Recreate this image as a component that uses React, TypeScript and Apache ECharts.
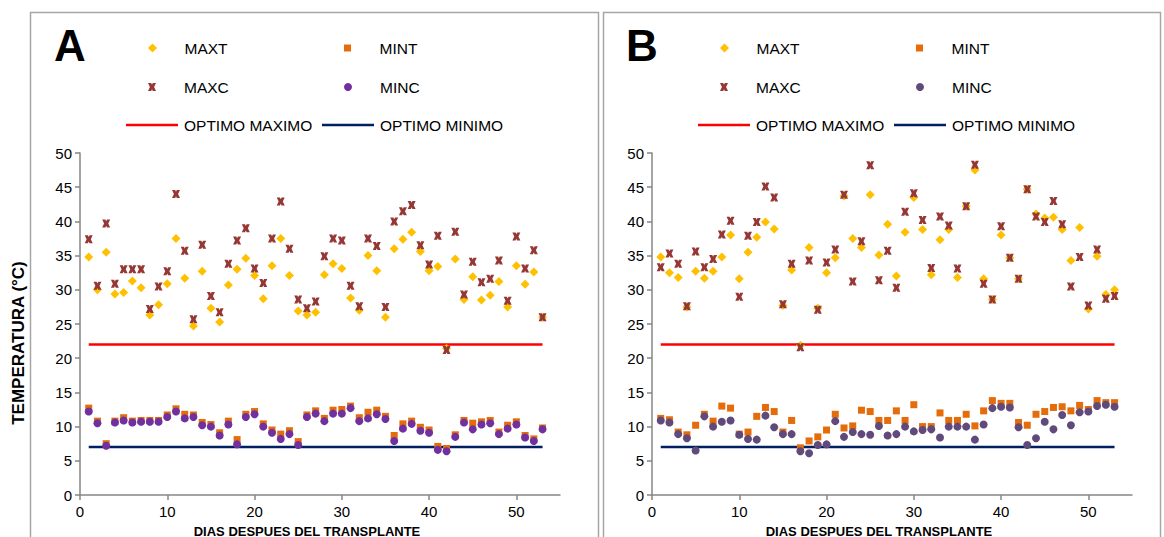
import React, { useEffect, useRef } from "react";
import * as echarts from "echarts";

// Days after transplant (x values)
const days = [
  1, 2, 3, 4, 5, 6, 7, 8, 9, 10, 11, 12, 13, 14, 15, 16, 17, 18, 19, 20, 21, 22, 23, 24, 25, 26, 27,
  28, 29, 30, 31, 32, 33, 34, 35, 36, 37, 38, 39, 40, 41, 42, 43, 44, 45, 46, 47, 48, 49, 50, 51, 52, 53,
];

// Panel A temperatures (°C)
const maxtA = [
  34.8, 30.0, 35.5, 29.4, 29.6, 31.3, 30.3, 26.3, 27.8, 30.9, 37.5, 31.7, 24.7, 32.7, 27.3, 25.3, 30.7,
  33.0, 34.6, 32.1, 28.7, 33.5, 37.5, 32.1, 26.9, 26.3, 26.7, 32.2, 33.8, 33.1, 28.8, 27.0, 35.0, 32.8,
  26.0, 36.0, 37.4, 38.4, 35.6, 32.8, 33.4, 21.4, 34.5, 28.6, 31.9, 28.5, 29.2, 31.2, 27.5, 33.5, 30.8,
  32.6, 26.0,
];
const maxcA = [
  37.4, 30.6, 39.7, 30.9, 33.0, 33.0, 33.0, 27.2, 30.5, 32.7, 44.0, 35.7, 25.7, 36.6, 29.1, 26.7, 33.8,
  37.2, 39.0, 33.1, 31.0, 37.5, 42.9, 36.0, 28.6, 27.3, 28.3, 34.9, 37.5, 37.2, 30.6, 27.6, 37.5, 36.4,
  27.5, 40.0, 41.5, 42.4, 36.5, 33.7, 37.9, 21.2, 38.5, 29.3, 34.1, 31.1, 31.6, 34.3, 28.4, 37.8, 33.1,
  35.8, 26.0,
];
const mintA = [
  12.7, 10.8, 7.5, 10.8, 11.3, 10.8, 10.9, 10.9, 10.9, 11.7, 12.6, 11.8, 11.7, 10.6, 10.3, 9.1, 10.8,
  8.1, 11.8, 12.2, 10.4, 9.5, 8.9, 9.4, 7.8, 11.7, 12.3, 11.2, 12.4, 12.5, 13.0, 11.3, 12.1, 12.4, 11.5,
  8.7, 10.4, 10.8, 9.9, 9.5, 7.1, 6.8, 8.8, 10.9, 10.5, 10.7, 10.9, 9.2, 10.2, 10.7, 8.7, 8.2, 9.8,
];
const mincA = [
  12.2, 10.5, 7.2, 10.6, 10.9, 10.6, 10.7, 10.7, 10.7, 11.4, 12.2, 11.2, 11.4, 10.2, 10.0, 8.7, 10.3,
  7.4, 11.4, 11.8, 10.0, 9.1, 8.2, 8.9, 7.3, 11.4, 11.9, 10.8, 11.9, 11.9, 12.7, 10.8, 11.2, 11.8, 11.1,
  7.9, 9.7, 10.4, 9.4, 9.1, 6.6, 6.4, 8.5, 10.6, 9.6, 10.3, 10.5, 8.9, 9.7, 10.3, 8.4, 7.9, 9.6,
];

// Panel B temperatures (°C)
const maxtB = [
  34.8, 32.5, 31.8, 27.5, 32.7, 31.7, 32.7, 34.8, 38.0, 31.6, 35.5, 37.7, 39.9, 38.9, 27.7, 32.9, 21.9,
  36.2, 27.3, 32.5, 34.7, 43.7, 37.5, 36.2, 43.9, 35.1, 39.6, 32.0, 38.4, 43.5, 38.8, 32.2, 37.3, 38.8,
  31.8, 42.2, 47.5, 31.6, 28.6, 38.0, 34.7, 31.6, 44.7, 41.1, 40.5, 40.6, 38.8, 34.3, 39.1, 27.2, 34.9,
  29.3, 30.0,
];
const maxcB = [
  33.3, 35.3, 33.8, 27.6, 35.6, 33.3, 34.5, 38.1, 40.1, 29.0, 37.9, 39.9, 45.1, 43.5, 27.9, 33.8, 21.6,
  34.3, 27.1, 34.0, 35.9, 43.9, 31.2, 37.1, 48.2, 31.4, 35.7, 30.3, 41.4, 44.1, 40.2, 33.2, 40.7, 39.4,
  33.1, 42.2, 48.3, 30.9, 28.6, 39.3, 34.7, 31.6, 44.7, 40.7, 39.9, 43.0, 39.6, 30.5, 34.8, 27.7, 35.9,
  28.7, 29.1,
];
const mintB = [
  11.2, 11.0, 9.2, 8.8, 10.2, 11.8, 10.8, 13.0, 12.7, 8.9, 9.2, 11.5, 12.8, 12.2, 9.2, 10.9, 6.9, 7.9,
  8.5, 9.5, 11.8, 9.8, 10.1, 12.4, 12.2, 10.9, 10.9, 12.3, 10.9, 13.2, 10.0, 10.0, 12.0, 10.9, 10.9,
  11.8, 10.1, 12.3, 13.8, 13.4, 13.4, 10.6, 10.2, 11.8, 12.2, 12.8, 12.9, 12.3, 13.1, 12.5, 13.8, 13.5,
  13.5,
];
const mincB = [
  10.9, 10.6, 8.9, 8.3, 6.5, 11.5, 10.0, 10.7, 10.9, 8.8, 8.2, 8.1, 11.6, 9.9, 8.9, 8.9, 6.4, 6.1, 7.3,
  7.4, 10.8, 8.5, 9.2, 8.9, 8.8, 10.1, 8.7, 8.9, 10.0, 9.3, 9.5, 9.6, 8.4, 10.0, 10.0, 10.0, 8.1, 10.3,
  12.7, 12.9, 12.8, 9.9, 7.3, 8.3, 10.7, 9.6, 11.7, 10.2, 12.1, 12.2, 13.0, 13.2, 12.9,
];

// Optimum thresholds (°C)
const optimoMaximo = 22;
const optimoMinimo = 7;

const xTicks = [0, 10, 20, 30, 40, 50];

const FONT = "'Liberation Sans', Arial, sans-serif";
const AXIS_GRAY = "#868686";
const C_MAXT = "#FFC000";
const C_MINT = "#E46C0A";
const C_MAXC = "#953735";
const C_OPTMAX = "#FF0000";
const C_OPTMIN = "#002060";

// Marker shapes (paths keep their aspect ratio inside legend boxes)
const X_MARK = "path://M0,0L4,0L5,2.2L6,0L10,0L7.6,5L10,10L6,10L5,7.8L4,10L0,10L2.4,5Z";
const DIAMOND = "path://M5,0L10,5L5,10L0,5Z";
const SQUARE = "path://M0,0L10,0L10,10L0,10Z";
const LINE_ICON = "path://M0,0L52,0L52,2.5L0,2.5Z";

const pairs = (vals: number[]) => days.map((d, i) => [d, vals[i]]);

const panels = [
  { letter: "A", dx: 0, maxt: maxtA, mint: mintA, maxc: maxcA, minc: mincA, mincColor: "#7030A0" },
  { letter: "B", dx: 572, maxt: maxtB, mint: mintB, maxc: maxcB, minc: mincB, mincColor: "#604A7B" },
];

function legendEntry(name: string, left: number, centerY: number, icon: string, color: string, h = 8) {
  return {
    data: [{ name, icon, itemStyle: { color, borderWidth: 0 } }],
    left,
    top: centerY - 9,
    padding: 0,
    itemWidth: 52,
    itemHeight: h,
    itemGap: 0,
    symbolKeepAspect: true,
    selectedMode: false,
    textStyle: { fontSize: 15.5, color: "#000", fontFamily: FONT, padding: [0, 0, 0, 1] },
  };
}

export default function App() {
  const ref = useRef<HTMLDivElement>(null);

  useEffect(() => {
    if (!ref.current) return;
    const chart = echarts.init(ref.current, undefined, { renderer: "svg" });

    const grids = panels.map((p) => ({ left: 80 + p.dx, top: 153, width: 480, height: 342 }));

    const axisLine = { show: true, lineStyle: { color: AXIS_GRAY, width: 1.5 } };
    const axisTick = { show: true, inside: false, length: 5, lineStyle: { color: AXIS_GRAY, width: 1.5 } };
    const axisLabel = { fontSize: 15, color: "#000", fontFamily: FONT };

    const xAxes = panels.map((_, i) => ({
      type: "value",
      gridIndex: i,
      min: 0,
      max: 55,
      interval: 10,
      axisLine,
      axisTick: { ...axisTick, customValues: xTicks },
      axisLabel: { ...axisLabel, margin: 9, customValues: xTicks },
      splitLine: { show: false },
    }));

    const yAxes = panels.map((_, i) => ({
      type: "value",
      gridIndex: i,
      min: 0,
      max: 50,
      interval: 5,
      axisLine,
      axisTick,
      axisLabel: { ...axisLabel, margin: 8 },
      splitLine: { show: false },
    }));

    const series: any[] = [];
    panels.forEach((p, i) => {
      const base = { xAxisIndex: i, yAxisIndex: i };
      series.push(
        {
          ...base,
          name: "OPTIMO MAXIMO",
          type: "line",
          symbol: "none",
          data: [
            [days[0], optimoMaximo],
            [days[days.length - 1], optimoMaximo],
          ],
          lineStyle: { color: C_OPTMAX, width: 2.5 },
          itemStyle: { color: C_OPTMAX },
          z: 1,
        },
        {
          ...base,
          name: "OPTIMO MINIMO",
          type: "line",
          symbol: "none",
          data: [
            [days[0], optimoMinimo],
            [days[days.length - 1], optimoMinimo],
          ],
          lineStyle: { color: C_OPTMIN, width: 2.5 },
          itemStyle: { color: C_OPTMIN },
          z: 1,
        },
        {
          ...base,
          name: "MAXT",
          type: "scatter",
          symbol: DIAMOND,
          symbolSize: 9,
          data: pairs(p.maxt),
          itemStyle: { color: C_MAXT, opacity: 1 },
          z: 2,
        },
        {
          ...base,
          name: "MINT",
          type: "scatter",
          symbol: SQUARE,
          symbolSize: 7,
          data: pairs(p.mint),
          itemStyle: { color: C_MINT, opacity: 1 },
          z: 2,
        },
        {
          ...base,
          name: "MAXC",
          type: "scatter",
          symbol: X_MARK,
          symbolSize: 8,
          data: pairs(p.maxc),
          itemStyle: { color: C_MAXC, opacity: 1 },
          z: 3,
        },
        {
          ...base,
          name: "MINC",
          type: "scatter",
          symbol: "circle",
          symbolSize: 8,
          data: pairs(p.minc),
          itemStyle: { color: p.mincColor, opacity: 1 },
          z: 3,
        }
      );
    });

    const legends: any[] = [];
    panels.forEach((p) => {
      // marker entries: icon box sits flush left, so shift them to centre the marker
      const m1 = 148 + p.dx;
      const m2 = 344 + p.dx;
      const l1 = 126 + p.dx;
      const l2 = 322 + p.dx;
      legends.push(
        legendEntry("MAXT", m1, 49, DIAMOND, C_MAXT, 9),
        legendEntry("MINT", m2, 49, SQUARE, C_MINT, 7),
        legendEntry("MAXC", m1, 88, X_MARK, C_MAXC, 8),
        legendEntry("MINC", m2, 88, "circle", p.mincColor, 8),
        legendEntry("OPTIMO MAXIMO", l1, 126, LINE_ICON, C_OPTMAX, 8),
        legendEntry("OPTIMO MINIMO", l2, 126, LINE_ICON, C_OPTMIN, 8)
      );
    });

    const graphic: any[] = [];
    panels.forEach((p) => {
      graphic.push(
        {
          type: "rect",
          shape: { x: p.letter === "A" ? 30.5 : 603.5, y: 12.5, width: p.letter === "A" ? 568 : 557, height: 540 },
          style: { fill: "none", stroke: "#A6A6A6", lineWidth: 1.5 },
          silent: true,
        },
        {
          type: "text",
          x: 54 + p.dx,
          y: 45,
          style: {
            text: p.letter,
            font: `bold 44px ${FONT}`,
            fill: "#000",
            verticalAlign: "middle",
          },
          silent: true,
        },
        {
          type: "text",
          x: 307 + p.dx,
          y: 531,
          style: {
            text: "DIAS DESPUES DEL TRANSPLANTE",
            font: `bold 13px ${FONT}`,
            fill: "#000",
            align: "center",
            verticalAlign: "middle",
          },
          silent: true,
        }
      );
    });
    graphic.push({
      type: "text",
      x: 18,
      y: 343,
      rotation: Math.PI / 2,
      style: {
        text: "TEMPERATURA (°C)",
        font: `bold 17px ${FONT}`,
        fill: "#000",
        align: "center",
        verticalAlign: "middle",
      },
      silent: true,
    });

    chart.setOption({
      animation: false,
      backgroundColor: "#fff",
      textStyle: { fontFamily: FONT },
      grid: grids,
      xAxis: xAxes,
      yAxis: yAxes,
      legend: legends,
      series,
      graphic,
    });

    return () => chart.dispose();
  }, []);

  return (
    <div
      ref={ref}
      style={{ position: "fixed", left: 0, top: 0, width: 1164, height: 537, background: "#fff" }}
    />
  );
}
